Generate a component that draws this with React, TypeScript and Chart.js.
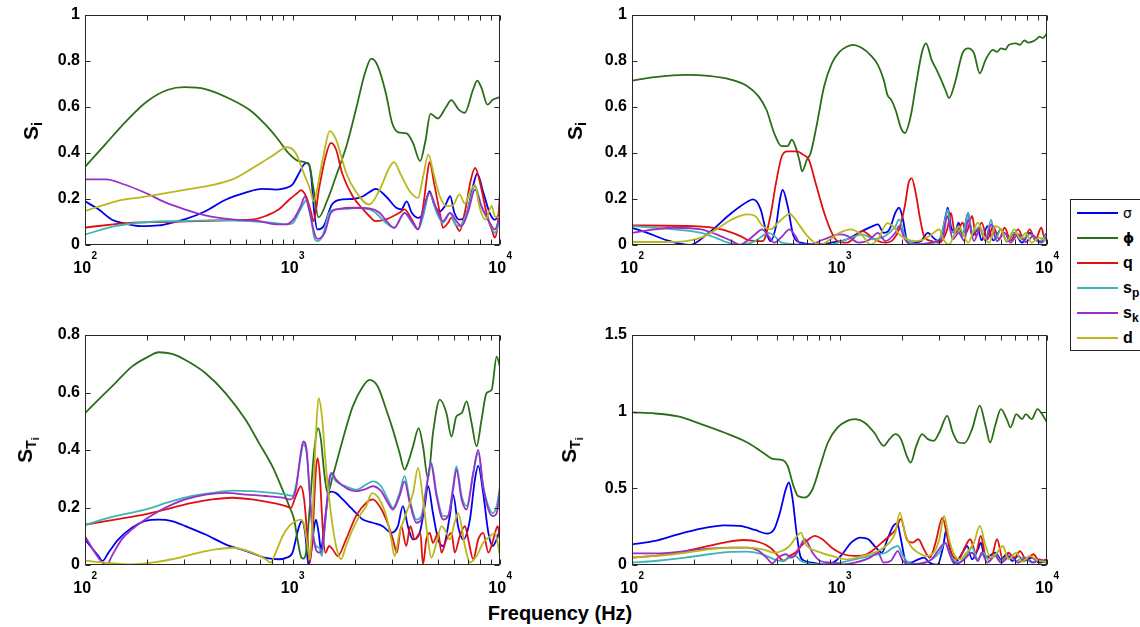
import React, { useEffect, useRef } from "react";
import { Chart, registerables } from "chart.js";

Chart.register(...registerables);

const FONT = '"Liberation Sans", Arial, Helvetica, sans-serif';

// Series order / legend
const SERIES_COLORS = ["#0000ee", "#2a6e18", "#e01010", "#40b4b4", "#9a2ec8", "#b8b81c"];

// x axis (Hz)
const FREQ_MIN = 100;
const FREQ_MAX = 10000;
const X_MAJOR = [100, 1000, 10000];
const X_EXPONENT = ["2", "3", "4"];
const X_MINOR = [200, 300, 400, 500, 600, 700, 800, 900, 2000, 3000, 4000, 5000, 6000, 7000, 8000, 9000];

// Data points: [log10(frequency in Hz), index value]
type Pt = [number, number];

// ---- top-left: S_i ----
const TL_SIGMA: Pt[] = [[2,.19],[2.065,.155],[2.13,.11],[2.19,.094],[2.27,.082],[2.355,.085],[2.42,.097],[2.48,.111],[2.58,.147],[2.68,.198],[2.77,.227],[2.855,.244],[2.92,.241],[2.95,.244],[3,.263],[3.03,.31],[3.055,.35],[3.073,.357],[3.09,.3],[3.105,.14],[3.12,.068],[3.15,.082],[3.19,.176],[3.24,.198],[3.29,.2],[3.34,.212],[3.39,.241],[3.4,.244],[3.45,.212],[3.5,.162],[3.525,.155],[3.55,.19],[3.575,.14],[3.605,.118],[3.63,.14],[3.66,.234],[3.685,.17],[3.71,.147],[3.735,.17],[3.76,.212],[3.78,.14],[3.805,.11],[3.84,.14],[3.87,.256],[3.89,.31],[3.92,.227],[3.95,.14],[3.975,.11],[4,.14]];
const TL_PHI: Pt[] = [[2,.34],[2.1,.44],[2.2,.54],[2.3,.625],[2.4,.675],[2.48,.686],[2.58,.678],[2.7,.635],[2.8,.583],[2.87,.523],[2.93,.46],[2.98,.4],[3.03,.365],[3.08,.35],[3.1,.25],[3.125,.12],[3.17,.2],[3.21,.3],[3.26,.43],[3.306,.59],[3.35,.75],[3.38,.81],[3.41,.78],[3.45,.66],[3.48,.53],[3.51,.49],[3.55,.485],[3.58,.445],[3.615,.365],[3.64,.45],[3.665,.57],[3.7,.55],[3.74,.6],[3.765,.63],[3.8,.59],[3.83,.575],[3.87,.675],[3.89,.715],[3.91,.685],[3.94,.61],[3.965,.632],[4,.643]];
const TL_Q: Pt[] = [[2,.076],[2.23,.097],[2.39,.1],[2.55,.104],[2.71,.108],[2.81,.111],[2.87,.126],[2.935,.155],[2.985,.198],[3.025,.227],[3.04,.238],[3.065,.212],[3.09,.14],[3.1,.104],[3.13,.256],[3.16,.386],[3.185,.444],[3.21,.415],[3.24,.31],[3.29,.212],[3.34,.155],[3.37,.126],[3.4,.104],[3.45,.111],[3.515,.14],[3.54,.155],[3.575,.111],[3.605,.068],[3.63,.17],[3.65,.31],[3.66,.36],[3.685,.256],[3.71,.14],[3.725,.075],[3.75,.097],[3.765,.118],[3.79,.082],[3.805,.06],[3.83,.14],[3.86,.285],[3.88,.335],[3.9,.285],[3.935,.14],[3.965,.053],[3.975,.032],[3.99,.097],[4,.23]];
const TL_SP: Pt[] = [[2,.046],[2.145,.082],[2.306,.1],[2.468,.104],[2.629,.107],[2.79,.104],[2.9,.097],[2.97,.09],[3,.094],[3.03,.14],[3.056,.184],[3.065,.195],[3.09,.111],[3.105,.032],[3.12,.017],[3.145,.04],[3.177,.14],[3.21,.155],[3.26,.157],[3.32,.162],[3.37,.155],[3.4,.14],[3.45,.097],[3.49,.075],[3.54,.14],[3.575,.097],[3.605,.068],[3.63,.126],[3.66,.227],[3.695,.14],[3.725,.097],[3.76,.14],[3.78,.097],[3.805,.082],[3.84,.14],[3.88,.256],[3.91,.17],[3.95,.097],[3.975,.053],[4,.11]];
const TL_SK: Pt[] = [[2,.285],[2.1,.285],[2.19,.263],[2.29,.227],[2.39,.184],[2.48,.155],[2.58,.129],[2.71,.111],[2.84,.104],[2.92,.09],[2.97,.09],[3.01,.118],[3.04,.17],[3.06,.21],[3.08,.155],[3.105,.053],[3.12,.027],[3.155,.053],[3.185,.14],[3.225,.157],[3.29,.162],[3.37,.159],[3.42,.14],[3.46,.097],[3.49,.075],[3.54,.14],[3.58,.097],[3.605,.068],[3.635,.17],[3.66,.227],[3.695,.155],[3.725,.104],[3.76,.14],[3.79,.104],[3.815,.082],[3.845,.14],[3.88,.241],[3.91,.17],[3.95,.097],[3.975,.068],[4,.126]];
const TL_D: Pt[] = [[2,.147],[2.15,.19],[2.29,.21],[2.48,.24],[2.61,.26],[2.71,.285],[2.8,.33],[2.9,.386],[2.975,.425],[3.015,.4],[3.055,.31],[3.09,.227],[3.1,.19],[3.145,.37],[3.18,.495],[3.21,.458],[3.26,.31],[3.3,.24],[3.37,.176],[3.42,.24],[3.47,.342],[3.49,.36],[3.52,.31],[3.565,.234],[3.605,.205],[3.63,.3],[3.655,.393],[3.68,.31],[3.71,.212],[3.74,.17],[3.77,.17],[3.805,.22],[3.83,.18],[3.86,.24],[3.88,.26],[3.9,.17],[3.93,.11],[3.96,.17],[3.975,.125],[4,.12]];

// ---- top-right: S_i ----
const TR_SIGMA: Pt[] = [[2,.075],[2.074,.053],[2.17,.02],[2.278,0],[2.37,.053],[2.481,.14],[2.56,.19],[2.583,.198],[2.62,.155],[2.648,.053],[2.667,.017],[2.694,.082],[2.713,.198],[2.726,.24],[2.75,.17],[2.778,.04],[2.815,.01],[2.889,.002],[2.96,.01],[3.037,.025],[3.093,.053],[3.16,.082],[3.185,.09],[3.213,.053],[3.241,.068],[3.269,.14],[3.287,.162],[3.306,.111],[3.324,.025],[3.352,.01],[3.39,.015],[3.426,.053],[3.454,.03],[3.481,.015],[3.515,.14],[3.522,.162],[3.537,.08],[3.556,.053],[3.574,.097],[3.593,.04],[3.62,.14],[3.639,.04],[3.667,.068],[3.685,.02],[3.713,.082],[3.741,.02],[3.778,.068],[3.806,.015],[3.843,.053],[3.88,.01],[3.917,.053],[3.963,.012],[4,.053]];
const TR_PHI: Pt[] = [[2,.715],[2.11,.73],[2.26,.74],[2.37,.735],[2.48,.718],[2.556,.69],[2.61,.646],[2.648,.588],[2.685,.487],[2.72,.43],[2.75,.43],[2.77,.458],[2.787,.43],[2.806,.371],[2.82,.32],[2.843,.371],[2.861,.4],[2.889,.516],[2.926,.69],[2.963,.79],[3,.84],[3.037,.863],[3.065,.87],[3.11,.855],[3.148,.827],[3.185,.783],[3.213,.718],[3.231,.653],[3.25,.63],[3.27,.588],[3.296,.509],[3.315,.487],[3.343,.56],[3.37,.704],[3.398,.84],[3.417,.877],[3.444,.805],[3.472,.754],[3.49,.718],[3.51,.675],[3.528,.639],[3.556,.704],[3.593,.834],[3.62,.855],[3.648,.834],[3.676,.747],[3.704,.805],[3.74,.848],[3.76,.84],[3.778,.855],[3.8,.85],[3.815,.87],[3.85,.877],[3.87,.87],[3.89,.89],[3.91,.88],[3.926,.883],[3.95,.895],[3.963,.906],[3.98,.9],[4,.92]];
const TR_Q: Pt[] = [[2,.085],[2.3,.082],[2.43,.068],[2.52,.04],[2.565,.02],[2.63,.017],[2.667,.126],[2.694,.27],[2.722,.386],[2.75,.407],[2.796,.407],[2.824,.393],[2.852,.371],[2.889,.256],[2.926,.14],[2.963,.053],[2.99,.017],[3.037,.01],[3.11,.06],[3.167,.025],[3.222,.01],[3.26,.025],[3.287,.068],[3.315,.17],[3.333,.27],[3.348,.29],[3.367,.227],[3.389,.111],[3.407,.04],[3.444,.017],[3.48,.01],[3.519,.068],[3.537,.14],[3.556,.053],[3.574,.068],[3.593,.097],[3.611,.053],[3.639,.126],[3.657,.04],[3.685,.097],[3.713,.025],[3.741,.082],[3.769,.025],[3.796,.075],[3.824,.02],[3.861,.068],[3.889,.025],[3.917,.068],[3.944,.02],[3.972,.075],[3.99,.03],[4,.05]];
const TR_SP: Pt[] = [[2,.082],[2.11,.075],[2.2,.068],[2.333,.053],[2.407,.03],[2.463,.01],[2.519,0],[2.593,.017],[2.63,.04],[2.657,.053],[2.685,.04],[2.722,.01],[2.852,.001],[2.963,.003],[3.037,.025],[3.111,.046],[3.167,.025],[3.222,.04],[3.269,.08],[3.287,.111],[3.315,.04],[3.343,.01],[3.407,.003],[3.481,.025],[3.509,.111],[3.522,.155],[3.537,.053],[3.565,.068],[3.593,.04],[3.62,.14],[3.639,.053],[3.676,.08],[3.704,.025],[3.731,.11],[3.75,.025],[3.778,.068],[3.806,.017],[3.843,.053],[3.88,.025],[3.917,.046],[3.963,.017],[4,.046]];
const TR_SK: Pt[] = [[2,.053],[2.111,.068],[2.204,.075],[2.333,.068],[2.407,.046],[2.481,.017],[2.519,.001],[2.565,.025],[2.602,.053],[2.626,.068],[2.657,.04],[2.685,.01],[2.722,.036],[2.759,.068],[2.787,.04],[2.815,.002],[2.852,.002],[2.926,.025],[3,.046],[3.037,.04],[3.093,.01],[3.148,.025],[3.185,.053],[3.222,.017],[3.269,.053],[3.287,.082],[3.315,.025],[3.343,.002],[3.407,.005],[3.46,.015],[3.5,.04],[3.519,.126],[3.546,.025],[3.574,.053],[3.602,.017],[3.62,.111],[3.648,.017],[3.676,.068],[3.704,.017],[3.731,.09],[3.759,.017],[3.796,.053],[3.824,.01],[3.861,.046],[3.898,.013],[3.935,.04],[3.972,.01],[4,.036]];
const TR_D: Pt[] = [[2,.013],[2.15,.013],[2.26,.017],[2.333,.032],[2.407,.068],[2.481,.111],[2.556,.133],[2.593,.126],[2.63,.082],[2.667,.068],[2.704,.097],[2.74,.126],[2.759,.136],[2.787,.111],[2.833,.053],[2.87,.017],[2.907,.001],[2.944,.017],[3,.053],[3.056,.068],[3.111,.04],[3.148,.002],[3.185,.025],[3.231,.095],[3.259,.08],[3.296,.04],[3.324,.025],[3.37,.017],[3.407,.025],[3.444,.046],[3.481,.068],[3.5,.025],[3.528,.002],[3.556,.053],[3.574,.082],[3.593,.053],[3.62,.01],[3.648,.068],[3.667,.097],[3.694,.04],[3.722,.01],[3.75,.082],[3.778,.068],[3.806,.017],[3.843,.068],[3.87,.025],[3.898,.053],[3.926,.01],[3.963,.032],[4,.017]];

// ---- bottom-left: S_Ti ----
const BL_SIGMA: Pt[] = [[2,.089],[2.032,.06],[2.065,.031],[2.084,.014],[2.113,.043],[2.161,.089],[2.226,.13],[2.29,.153],[2.355,.158],[2.419,.153],[2.484,.135],[2.581,.106],[2.677,.072],[2.774,.049],[2.871,.025],[2.935,.02],[2.968,.025],[3,.043],[3.016,.089],[3.032,.135],[3.045,.153],[3.061,.112],[3.077,0],[3.089,.04],[3.105,.135],[3.113,.158],[3.126,.112],[3.137,.054],[3.153,.135],[3.169,.228],[3.185,.255],[3.21,.25],[3.242,.228],[3.29,.193],[3.339,.158],[3.387,.147],[3.435,.135],[3.476,.112],[3.508,.135],[3.532,.205],[3.556,.135],[3.581,.089],[3.613,.112],[3.637,.205],[3.653,.275],[3.677,.18],[3.702,.089],[3.726,.066],[3.758,.17],[3.774,.245],[3.798,.135],[3.823,.089],[3.855,.158],[3.879,.297],[3.895,.345],[3.919,.25],[3.944,.112],[3.965,.066],[3.984,.089],[4,.124]];
const BL_PHI: Pt[] = [[2,.528],[2.065,.575],[2.145,.632],[2.226,.69],[2.306,.725],[2.355,.74],[2.42,.734],[2.484,.713],[2.581,.667],[2.677,.598],[2.774,.505],[2.839,.424],[2.903,.343],[2.952,.262],[2.984,.205],[3.008,.158],[3.024,.089],[3.04,.031],[3.052,.022],[3.065,.043],[3.081,.18],[3.105,.4],[3.124,.476],[3.137,.436],[3.153,.32],[3.169,.25],[3.194,.309],[3.242,.436],[3.29,.551],[3.339,.621],[3.371,.644],[3.411,.621],[3.452,.54],[3.484,.47],[3.516,.39],[3.54,.332],[3.556,.355],[3.581,.413],[3.608,.476],[3.629,.413],[3.653,.3],[3.677,.459],[3.71,.575],[3.742,.528],[3.766,.447],[3.79,.517],[3.815,.528],[3.839,.569],[3.863,.494],[3.887,.413],[3.911,.505],[3.935,.598],[3.96,.61],[3.984,.725],[4,.69]];
const BL_Q: Pt[] = [[2,.14],[2.145,.158],[2.29,.176],[2.419,.199],[2.516,.216],[2.613,.228],[2.71,.234],[2.806,.228],[2.903,.216],[2.968,.205],[2.992,.199],[3.016,.24],[3.04,.274],[3.056,.228],[3.073,.089],[3.084,.008],[3.097,.112],[3.113,.332],[3.121,.372],[3.132,.309],[3.145,.135],[3.158,.043],[3.177,.066],[3.194,.054],[3.218,.031],[3.258,.089],[3.306,.17],[3.355,.216],[3.387,.228],[3.419,.205],[3.452,.158],[3.484,.089],[3.503,.043],[3.524,.135],[3.548,.066],[3.568,.135],[3.589,.089],[3.616,.112],[3.629,.002],[3.645,.089],[3.661,.112],[3.677,.077],[3.702,.112],[3.718,.043],[3.742,.089],[3.766,.112],[3.782,.043],[3.806,.1],[3.831,.135],[3.847,.089],[3.871,.02],[3.895,.089],[3.919,.112],[3.944,.043],[3.968,.089],[3.989,.135],[4,.089]];
const BL_SP: Pt[] = [[2,.14],[2.145,.17],[2.29,.193],[2.419,.222],[2.516,.24],[2.613,.251],[2.71,.259],[2.806,.257],[2.903,.251],[2.968,.245],[3,.24],[3.016,.274],[3.04,.378],[3.052,.42],[3.068,.39],[3.081,.274],[3.097,.124],[3.113,.066],[3.129,.06],[3.142,.031],[3.153,.112],[3.169,.228],[3.185,.315],[3.21,.291],[3.258,.274],[3.306,.262],[3.355,.28],[3.387,.291],[3.427,.274],[3.46,.228],[3.484,.199],[3.516,.251],[3.54,.309],[3.565,.228],[3.597,.158],[3.621,.17],[3.645,.274],[3.661,.332],[3.669,.355],[3.694,.251],[3.726,.17],[3.75,.17],[3.774,.274],[3.79,.343],[3.815,.24],[3.839,.205],[3.871,.32],[3.895,.39],[3.919,.274],[3.944,.205],[3.965,.18],[3.984,.205],[4,.274]];
const BL_SK: Pt[] = [[2,.1],[2.048,.043],[2.084,.008],[2.105,0],[2.129,.031],[2.177,.089],[2.226,.124],[2.29,.158],[2.355,.187],[2.419,.21],[2.484,.228],[2.581,.245],[2.677,.251],[2.774,.245],[2.871,.24],[2.952,.234],[2.992,.228],[3.016,.262],[3.04,.39],[3.052,.43],[3.068,.4],[3.081,.27],[3.097,.112],[3.113,.054],[3.129,.043],[3.145,.066],[3.161,.18],[3.177,.297],[3.189,.32],[3.21,.297],[3.258,.268],[3.306,.257],[3.355,.265],[3.387,.274],[3.427,.257],[3.46,.216],[3.484,.193],[3.516,.24],[3.54,.291],[3.565,.216],[3.597,.147],[3.621,.158],[3.645,.262],[3.666,.355],[3.694,.24],[3.726,.158],[3.75,.17],[3.774,.262],[3.79,.332],[3.815,.228],[3.839,.193],[3.871,.32],[3.895,.4],[3.919,.274],[3.944,.193],[3.965,.17],[3.984,.18],[4,.262]];
const BL_D: Pt[] = [[2,.015],[2.097,.008],[2.226,.002],[2.323,.008],[2.419,.02],[2.516,.037],[2.629,.054],[2.71,.06],[2.806,.043],[2.871,.02],[2.895,.008],[2.919,.043],[2.952,.1],[2.984,.135],[3.016,.153],[3.04,.158],[3.056,.14],[3.073,.066],[3.084,.02],[3.097,.18],[3.113,.459],[3.126,.58],[3.142,.517],[3.161,.343],[3.185,.18],[3.21,.066],[3.234,.02],[3.258,.066],[3.29,.124],[3.323,.17],[3.355,.205],[3.384,.25],[3.419,.228],[3.452,.17],[3.476,.089],[3.492,.031],[3.516,.112],[3.548,.18],[3.581,.25],[3.605,.338],[3.629,.228],[3.653,.089],[3.669,.025],[3.694,.077],[3.718,.135],[3.742,.112],[3.758,.089],[3.782,.15],[3.798,.18],[3.831,.066],[3.855,.008],[3.887,.031],[3.919,.077],[3.952,.1],[3.976,.112],[4,.031]];

// ---- bottom-right: S_Ti ----
const BR_SIGMA: Pt[] = [[2,.135],[2.111,.157],[2.222,.2],[2.333,.237],[2.444,.259],[2.519,.255],[2.593,.229],[2.648,.205],[2.685,.233],[2.713,.342],[2.741,.494],[2.756,.538],[2.774,.429],[2.793,.211],[2.811,.059],[2.833,.026],[2.87,.015],[2.926,.004],[2.981,.026],[3.019,.08],[3.056,.146],[3.102,.179],[3.139,.168],[3.176,.113],[3.204,.08],[3.231,.168],[3.259,.255],[3.278,.272],[3.296,.168],[3.319,.026],[3.343,.015],[3.38,.037],[3.407,.048],[3.435,.015],[3.472,.002],[3.5,.124],[3.515,.233],[3.528,.124],[3.556,.015],[3.593,.08],[3.615,.124],[3.639,.037],[3.667,.102],[3.681,.146],[3.7,.05],[3.722,.059],[3.75,.08],[3.778,.037],[3.806,.07],[3.833,.026],[3.861,.059],[3.889,.026],[3.926,.048],[3.963,.015],[4,.026]];
const BR_PHI: Pt[] = [[2,.995],[2.111,.988],[2.222,.969],[2.333,.919],[2.444,.864],[2.556,.799],[2.63,.734],[2.685,.69],[2.722,.686],[2.75,.647],[2.778,.516],[2.8,.45],[2.833,.44],[2.87,.494],[2.907,.647],[2.944,.799],[2.991,.897],[3.037,.94],[3.074,.951],[3.12,.93],[3.167,.864],[3.213,.777],[3.241,.821],[3.269,.853],[3.296,.821],[3.324,.712],[3.343,.668],[3.37,.777],[3.398,.853],[3.426,.821],[3.454,.81],[3.481,.864],[3.519,.973],[3.546,.864],[3.574,.799],[3.602,.795],[3.639,.886],[3.676,1.039],[3.704,.908],[3.726,.799],[3.75,.908],[3.778,1.017],[3.806,.951],[3.824,.897],[3.852,.984],[3.88,.951],[3.898,.984],[3.926,.951],[3.954,1.017],[3.981,.973],[4,.93]];
const BR_Q: Pt[] = [[2,.048],[2.111,.059],[2.222,.08],[2.333,.113],[2.444,.146],[2.537,.163],[2.611,.15],[2.667,.113],[2.704,.059],[2.731,.026],[2.759,.059],[2.787,.08],[2.815,.124],[2.852,.168],[2.88,.19],[2.917,.168],[2.963,.113],[3.019,.07],[3.074,.059],[3.13,.07],[3.167,.102],[3.204,.146],[3.231,.179],[3.27,.23],[3.296,.3],[3.324,.168],[3.352,.146],[3.38,.168],[3.407,.102],[3.435,.048],[3.463,.146],[3.496,.309],[3.522,.168],[3.546,.059],[3.574,.037],[3.602,.11],[3.63,.168],[3.657,.08],[3.681,.19],[3.704,.06],[3.731,.045],[3.759,.168],[3.787,.037],[3.815,.08],[3.843,.048],[3.87,.091],[3.898,.037],[3.935,.07],[3.963,.026],[4,.037]];
const BR_SP: Pt[] = [[2,.015],[2.111,.026],[2.259,.048],[2.37,.07],[2.481,.085],[2.556,.087],[2.63,.07],[2.685,.037],[2.722,.026],[2.759,.048],[2.787,.059],[2.815,.026],[2.852,.011],[2.926,.004],[3,.015],[3.074,.037],[3.148,.059],[3.185,.07],[3.222,.08],[3.259,.113],[3.281,.124],[3.306,.059],[3.333,.015],[3.389,.004],[3.444,.037],[3.481,.08],[3.509,.146],[3.537,.059],[3.574,.015],[3.611,.059],[3.639,.113],[3.667,.037],[3.694,.08],[3.722,.026],[3.75,.07],[3.778,.026],[3.815,.059],[3.852,.026],[3.889,.048],[3.926,.015],[3.963,.037],[4,.011]];
const BR_SK: Pt[] = [[2,.076],[2.111,.076],[2.259,.091],[2.37,.107],[2.481,.113],[2.556,.113],[2.611,.091],[2.648,.048],[2.676,.011],[2.704,.048],[2.741,.07],[2.769,.048],[2.796,.08],[2.833,.168],[2.87,.08],[2.907,.026],[2.963,.015],[3.019,.004],[3.074,.015],[3.148,.048],[3.185,.08],[3.213,.015],[3.25,.03],[3.281,.091],[3.306,.026],[3.333,.004],[3.407,.015],[3.444,.037],[3.491,.124],[3.509,.146],[3.528,.08],[3.556,.004],[3.593,.026],[3.639,.08],[3.667,.026],[3.685,.08],[3.713,.015],[3.75,.059],[3.778,.015],[3.824,.059],[3.861,.015],[3.898,.048],[3.935,.015],[3.963,.037],[4,.015]];
const BR_D: Pt[] = [[2,.048],[2.111,.059],[2.259,.08],[2.37,.102],[2.481,.113],[2.556,.113],[2.63,.102],[2.685,.08],[2.722,.091],[2.759,.124],[2.796,.19],[2.815,.211],[2.833,.146],[2.852,.113],[2.889,.091],[2.963,.059],[3.037,.037],[3.111,.059],[3.185,.091],[3.241,.146],[3.269,.211],[3.291,.342],[3.315,.211],[3.343,.124],[3.38,.08],[3.417,.059],[3.454,.08],[3.481,.168],[3.504,.32],[3.528,.168],[3.556,.059],[3.583,.037],[3.611,.08],[3.648,.146],[3.676,.255],[3.704,.124],[3.731,.048],[3.759,.08],[3.787,.124],[3.815,.037],[3.852,.08],[3.88,.02],[3.917,.059],[3.954,.03],[4,.02]];

type PanelCfg = {
  left: number; top: number; width: number; height: number;
  plotL: number; plotT: number; plotR: number; plotB: number;
  yMax: number; yStep: number;
  series: Pt[][];
};

const PANELS: PanelCfg[] = [
  { left: 0, top: 0, width: 540, height: 290, plotL: 85, plotT: 15, plotR: 500, plotB: 245, yMax: 1, yStep: 0.2, series: [TL_SIGMA, TL_PHI, TL_Q, TL_SP, TL_SK, TL_D] },
  { left: 540, top: 0, width: 530, height: 290, plotL: 92, plotT: 15, plotR: 507, plotB: 245, yMax: 1, yStep: 0.2, series: [TR_SIGMA, TR_PHI, TR_Q, TR_SP, TR_SK, TR_D] },
  { left: 0, top: 300, width: 540, height: 300, plotL: 85, plotT: 35, plotR: 500, plotB: 265, yMax: 0.8, yStep: 0.2, series: [BL_SIGMA, BL_PHI, BL_Q, BL_SP, BL_SK, BL_D] },
  { left: 540, top: 300, width: 530, height: 300, plotL: 92, plotT: 35, plotR: 507, plotB: 265, yMax: 1.5, yStep: 0.5, series: [BR_SIGMA, BR_PHI, BR_Q, BR_SP, BR_SK, BR_D] },
];

const framePlugin = {
  id: "matlabFrame",
  afterDatasetsDraw(chart: any) {
    const { ctx, chartArea: a, scales } = chart;
    const xs = scales.x;
    const ys = scales.y;
    const L = Math.round(a.left) + 0.5;
    const R = Math.round(a.right) - 0.5;
    const T = Math.round(a.top) + 0.5;
    const B = Math.round(a.bottom) - 0.5;
    ctx.save();
    ctx.strokeStyle = "#262626";
    ctx.lineWidth = 1;
    ctx.beginPath();
    const tick = 5;
    for (const f of [...X_MAJOR, ...X_MINOR]) {
      const px = Math.round(xs.getPixelForValue(f)) + 0.5;
      ctx.moveTo(px, B); ctx.lineTo(px, B - tick);
      ctx.moveTo(px, T); ctx.lineTo(px, T + tick);
    }
    for (const t of ys.ticks) {
      const py = Math.round(ys.getPixelForValue(t.value)) + 0.5;
      ctx.moveTo(L, py); ctx.lineTo(L + tick, py);
      ctx.moveTo(R, py); ctx.lineTo(R - tick, py);
    }
    ctx.stroke();
    ctx.strokeRect(L, T, R - L, B - T);
    // x tick labels: 10^n
    ctx.fillStyle = "#000";
    ctx.textBaseline = "alphabetic";
    ctx.textAlign = "left";
    X_MAJOR.forEach((f, i) => {
      const px = xs.getPixelForValue(f);
      ctx.font = `bold 16px ${FONT}`;
      const w1 = ctx.measureText("10").width;
      ctx.font = `bold 10px ${FONT}`;
      const w2 = ctx.measureText(X_EXPONENT[i]).width;
      const x0 = px - (w1 + w2) / 2;
      ctx.font = `bold 16px ${FONT}`;
      ctx.fillText("10", x0, a.bottom + 28);
      ctx.font = `bold 10px ${FONT}`;
      ctx.fillText(X_EXPONENT[i], x0 + w1 + 0.5, a.bottom + 14);
    });
    ctx.restore();
  },
};

function Panel({ cfg }: { cfg: PanelCfg }) {
  const ref = useRef<HTMLCanvasElement>(null);
  useEffect(() => {
    const chart = new Chart(ref.current as HTMLCanvasElement, {
      type: "line",
      data: {
        datasets: cfg.series.map((pts, i) => ({
          data: pts.map(([lf, v]) => ({ x: Math.pow(10, lf), y: v })),
          borderColor: SERIES_COLORS[i],
          backgroundColor: SERIES_COLORS[i],
          borderWidth: 1.8,
          pointRadius: 0,
          fill: false,
          cubicInterpolationMode: "monotone",
          order: 5 - i,
        })),
      },
      options: {
        responsive: false,
        animation: false,
        devicePixelRatio: 1,
        layout: { padding: { left: 0, top: cfg.plotT, right: cfg.width - cfg.plotR, bottom: 0 } },
        plugins: { legend: { display: false }, tooltip: { enabled: false } },
        scales: {
          x: {
            type: "logarithmic",
            min: FREQ_MIN,
            max: FREQ_MAX,
            grid: { display: false, drawTicks: false },
            border: { display: false },
            ticks: { display: false },
            afterFit: (s: any) => { s.height = cfg.height - cfg.plotB; },
          },
          y: {
            type: "linear",
            min: 0,
            max: cfg.yMax,
            grid: { display: false, drawTicks: false },
            border: { display: false },
            ticks: {
              stepSize: cfg.yStep,
              padding: 5,
              color: "#000",
              font: { family: FONT, size: 16, weight: "bold" },
              callback: (v: any) => String(Math.round(Number(v) * 10) / 10),
            },
            afterFit: (s: any) => { s.width = cfg.plotL; },
          },
        },
      } as any,
      plugins: [framePlugin],
    });
    return () => chart.destroy();
  }, [cfg]);
  return (
    <canvas
      ref={ref}
      width={cfg.width}
      height={cfg.height}
      style={{ position: "absolute", left: cfg.left, top: cfg.top, width: cfg.width, height: cfg.height }}
    />
  );
}

function YLabel({ x, y, total }: { x: number; y: number; total: boolean }) {
  return (
    <div
      style={{
        position: "absolute", left: x, top: y, transform: "translate(-50%, -50%) rotate(-90deg)",
        whiteSpace: "nowrap", fontFamily: FONT, fontWeight: "bold", fontSize: 21, lineHeight: "22px", color: "#000",
      }}
    >
      S
      {total ? (
        <sub style={{ fontSize: 14, verticalAlign: "-4px" }}>
          T<sub style={{ fontSize: 11, verticalAlign: "-3px" }}>i</sub>
        </sub>
      ) : (
        <sub style={{ fontSize: 14, verticalAlign: "-4px" }}>i</sub>
      )}
    </div>
  );
}

const LEGEND_ROWS_Y = [13, 38, 63, 88, 113, 138];

function Legend() {
  const labels: React.ReactNode[] = [
    <span style={{ fontWeight: "normal", fontFamily: '"DejaVu Sans", sans-serif', fontSize: 14 }}>σ</span>,
    <span style={{ fontFamily: '"DejaVu Sans", sans-serif', fontSize: 14 }}>ϕ</span>,
    <span>q</span>,
    <span>s<sub style={{ fontSize: 12, verticalAlign: "-4px" }}>p</sub></span>,
    <span>s<sub style={{ fontSize: 12, verticalAlign: "-4px" }}>k</sub></span>,
    <span>d</span>,
  ];
  return (
    <div style={{ position: "absolute", left: 1070, top: 199, width: 100, height: 152, border: "1px solid #222", boxSizing: "border-box", background: "#fff" }}>
      {LEGEND_ROWS_Y.map((y, i) => (
        <React.Fragment key={i}>
          <div style={{ position: "absolute", left: 6, top: y - 1, width: 41, height: 2, background: SERIES_COLORS[i] }} />
          <div style={{ position: "absolute", left: 52, top: y - 10, height: 20, lineHeight: "20px", fontFamily: FONT, fontWeight: "bold", fontSize: 16, color: "#000", whiteSpace: "nowrap" }}>
            {labels[i]}
          </div>
        </React.Fragment>
      ))}
    </div>
  );
}

export default function App() {
  return (
    <div style={{ position: "fixed", left: 0, top: 0, width: 1140, height: 627, overflow: "hidden", background: "#fff" }}>
      {PANELS.map((p, i) => <Panel key={i} cfg={p} />)}
      <YLabel x={34} y={131} total={false} />
      <YLabel x={578} y={131} total={false} />
      <YLabel x={30} y={450} total={true} />
      <YLabel x={574} y={450} total={true} />
      <Legend />
      <div style={{ position: "absolute", left: 560, top: 602, transform: "translateX(-50%)", fontFamily: FONT, fontWeight: "bold", fontSize: 20, lineHeight: "22px", whiteSpace: "nowrap", color: "#000" }}>
        Frequency (Hz)
      </div>
    </div>
  );
}
